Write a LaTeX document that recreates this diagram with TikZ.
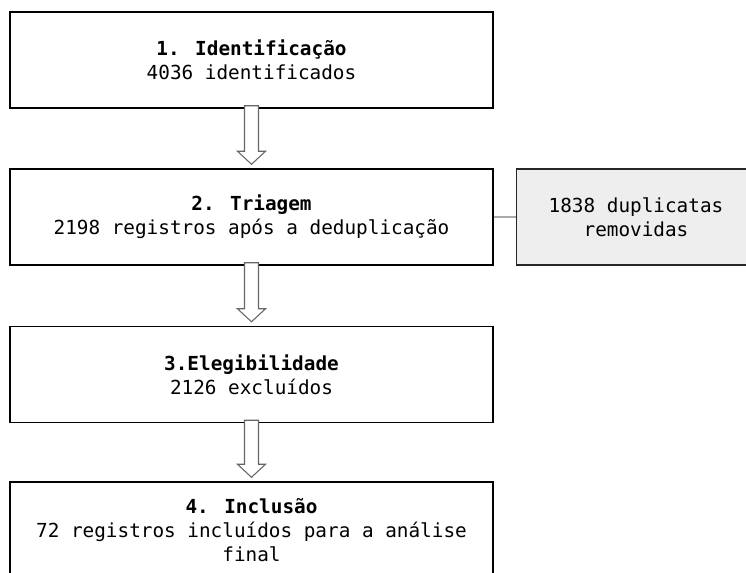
\documentclass[tikz,border=0pt]{standalone}
\usepackage{fontspec}
\newfontfamily\boxmono{DejaVu Sans Mono}
\usetikzlibrary{calc}
\definecolor{sidefill}{HTML}{EEEEEE}
\definecolor{linkgray}{HTML}{AAAAAA}
\definecolor{arrowgray}{HTML}{666666}
\tikzset{
  boxfont/.style={font=\boxmono\fontsize{14.5}{18}\selectfont},
  stage/.style={draw=black, line width=1.1pt, fill=white, minimum width=362.25pt, minimum height=72pt, align=center, inner sep=0pt, boxfont},
  sidebox/.style={draw=black!85, line width=1.1pt, fill=sidefill, minimum width=225pt, minimum height=72pt, inner sep=0pt},
  sidetext/.style={align=center, inner sep=0pt, boxfont},
  link/.style={draw=linkgray, line width=2pt},
  hollow/.style={draw=arrowgray, line width=0.8pt, fill=white, line join=miter}
}
\newcommand{\hollowarrow}[2]{%
  \draw[hollow] ($(#1.south)+(-7,-3)$) -- ($(#1.south)+(7,-3)$) -- ($(#2.north)+(7,-17)$) -- ($(#2.north)+(14,-17)$) -- ($(#2.north)+(0,-4)$) -- ($(#2.north)+(-14,-17)$) -- ($(#2.north)+(-7,-17)$) -- cycle;}
\begin{document}
\begin{tikzpicture}[x=0.75pt,y=-0.75pt]
\useasboundingbox (0,0) rectangle (746,572);
\begin{scope}
\clip (0,0) rectangle (746,572);
\node[stage] (b1) at (251.5,60) {\textbf{1. Identificação}\\4036 identificados};
\node[stage] (b2) at (251.5,217) {\textbf{2. Triagem}\\2198 registros após a deduplicação};
\node[stage] (b3) at (251.5,374.5) {\textbf{3.Elegibilidade}\\2126 excluídos};
\node[stage] (b4) at (251.5,530) {\textbf{4. Inclusão}\\72 registros incluídos para a análise\\final};
\node[sidebox, anchor=west] (s) at (516,217) {};
\node[sidetext] (st) at (636,217) {1838 duplicatas\\removidas};
\draw[link] (b2.east) -- (s.west);
\hollowarrow{b1}{b2}
\hollowarrow{b2}{b3}
\hollowarrow{b3}{b4}
\end{scope}
\end{tikzpicture}
\end{document}
